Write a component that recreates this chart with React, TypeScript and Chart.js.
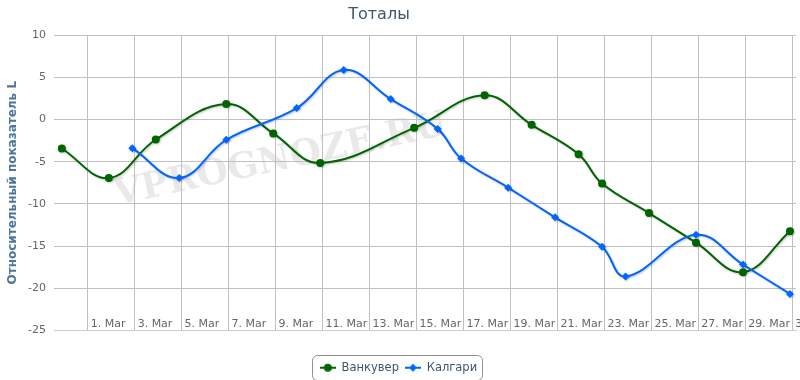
import { useEffect, useRef } from 'react';
import { Chart, registerables } from 'chart.js';

Chart.register(...registerables);

// ---- data (day numbers: 0 = 28 Feb, 1 = 1 Mar, ...) ----
const TITLE = 'Тоталы';
const Y_TITLE = 'Относительный показатель L';
const SERIES_NAMES = ['Ванкувер', 'Калгари'];
const SERIES_COLORS = ['#006400', '#0066FF'];

const VANCOUVER_DAYS = [0, 2, 4, 7, 9, 11, 15, 18, 20, 22, 23, 25, 27, 29, 31];
const VANCOUVER_VALUES = [-3.44, -6.94, -2.38, 1.82, -1.66, -5.15, -1.0, 2.85, -0.64, -4.12, -7.6, -11.09, -14.6, -18.1, -13.23];

const CALGARY_DAYS = [3, 5, 7, 10, 12, 14, 16, 17, 19, 21, 23, 24, 27, 29, 31];
const CALGARY_VALUES = [-3.41, -6.94, -2.42, 1.34, 5.86, 2.41, -1.12, -4.63, -8.08, -11.6, -15.08, -18.6, -13.66, -17.19, -20.67];

const X_TICK_DAYS = [1, 3, 5, 7, 9, 11, 13, 15, 17, 19, 21, 23, 25, 27, 29, 31];
const X_TICK_LABELS = ['1. Mar', '3. Mar', '5. Mar', '7. Mar', '9. Mar', '11. Mar', '13. Mar', '15. Mar', '17. Mar', '19. Mar', '21. Mar', '23. Mar', '25. Mar', '27. Mar', '29. Mar', '31. Mar'];

const Y_MIN = -25;
const Y_MAX = 10;
const Y_STEP = 5;

// timestamps of points sit a couple of hours before the midnight grid lines
const TIME_SHIFT = 0.1;
const X_MIN = -0.433;
const X_MAX = 31.157;

const WATERMARK = 'VPROGNOZE.RU';

function makeSymbol(color: string, kind: 'circle' | 'diamond'): HTMLCanvasElement {
  const c = document.createElement('canvas');
  c.width = 16;
  c.height = 10;
  const g = c.getContext('2d')!;
  g.strokeStyle = color;
  g.lineWidth = 2;
  g.beginPath();
  g.moveTo(0, 5);
  g.lineTo(16, 5);
  g.stroke();
  g.fillStyle = color;
  g.beginPath();
  if (kind === 'circle') {
    g.arc(8, 5, 4, 0, Math.PI * 2);
  } else {
    g.moveTo(8, 1);
    g.lineTo(12, 5);
    g.lineTo(8, 9);
    g.lineTo(4, 5);
    g.closePath();
  }
  g.fill();
  return c;
}

export default function App() {
  const ref = useRef<HTMLCanvasElement | null>(null);

  useEffect(() => {
    document.body.style.margin = '0';
    const canvas = ref.current;
    if (!canvas) return;

    const symbols = [makeSymbol(SERIES_COLORS[0], 'circle'), makeSymbol(SERIES_COLORS[1], 'diamond')];

    const watermarkPlugin = {
      id: 'watermark',
      beforeDraw(chart: any) {
        const ctx = chart.ctx;
        const a = chart.chartArea;
        ctx.save();
        ctx.translate(a.left + (a.right - a.left) * 0.305, a.top + (a.bottom - a.top) * 0.425);
        ctx.rotate((-12 * Math.PI) / 180);
        ctx.font = 'bold 36px "DejaVu Serif"';
        ctx.fillStyle = 'rgba(0,0,0,0.085)';
        ctx.textAlign = 'center';
        ctx.textBaseline = 'middle';
        ctx.fillText(WATERMARK, 0, 0);
        ctx.restore();
      },
    };

    const shadowPlugin = {
      id: 'lineShadow',
      beforeDatasetDraw(chart: any) {
        const ctx = chart.ctx;
        ctx.save();
        ctx.shadowColor = 'rgba(0,0,0,0.22)';
        ctx.shadowBlur = 2;
        ctx.shadowOffsetX = 1;
        ctx.shadowOffsetY = 1;
      },
      afterDatasetDraw(chart: any) {
        chart.ctx.restore();
      },
    };

    const titleShiftPlugin = {
      id: 'titleShift',
      afterLayout(chart: any) {
        const t = chart.titleBlock;
        if (t) {
          t.left = 0;
          t.right = 758;
          t.width = 758;
        }
      },
    };

    const legendBoxPlugin = {
      id: 'legendBox',
      afterDraw(chart: any) {
        const lg = chart.legend;
        if (!lg || !lg.legendHitBoxes || !lg.legendHitBoxes.length) return;
        const hb = lg.legendHitBoxes;
        const first = hb[0];
        const last = hb[hb.length - 1];
        const cy = first.top + first.height / 2;
        const x0 = Math.round(first.left - 8) + 0.5;
        const x1 = Math.round(last.left + last.width + 5) + 0.5;
        const y0 = Math.round(cy - 13) + 0.5;
        const y1 = Math.round(cy + 12) + 0.5;
        const r = 5;
        const ctx = chart.ctx;
        ctx.save();
        ctx.strokeStyle = '#909090';
        ctx.lineWidth = 1;
        ctx.beginPath();
        ctx.moveTo(x0 + r, y0);
        ctx.lineTo(x1 - r, y0);
        ctx.arcTo(x1, y0, x1, y0 + r, r);
        ctx.lineTo(x1, y1 - r);
        ctx.arcTo(x1, y1, x1 - r, y1, r);
        ctx.lineTo(x0 + r, y1);
        ctx.arcTo(x0, y1, x0, y1 - r, r);
        ctx.lineTo(x0, y0 + r);
        ctx.arcTo(x0, y0, x0 + r, y0, r);
        ctx.closePath();
        ctx.stroke();
        ctx.restore();
      },
    };

    const chart = new Chart(canvas, {
      type: 'line',
      data: {
        datasets: [
          {
            label: SERIES_NAMES[0],
            data: VANCOUVER_DAYS.map((d, i) => ({ x: d - TIME_SHIFT, y: VANCOUVER_VALUES[i] })),
            borderColor: SERIES_COLORS[0],
            backgroundColor: SERIES_COLORS[0],
            pointBackgroundColor: SERIES_COLORS[0],
            pointBorderColor: SERIES_COLORS[0],
            pointBorderWidth: 0,
            pointStyle: 'circle',
            pointRadius: 4,
            borderWidth: 2,
            tension: 0.4,
            fill: false,
            order: 1,
          },
          {
            label: SERIES_NAMES[1],
            data: CALGARY_DAYS.map((d, i) => ({ x: d - TIME_SHIFT, y: CALGARY_VALUES[i] })),
            borderColor: SERIES_COLORS[1],
            backgroundColor: SERIES_COLORS[1],
            pointBackgroundColor: SERIES_COLORS[1],
            pointBorderColor: SERIES_COLORS[1],
            pointBorderWidth: 0,
            pointStyle: 'rectRot',
            pointRadius: 4,
            borderWidth: 2,
            tension: 0.4,
            fill: false,
            order: 0,
          },
        ],
      },
      options: {
        animation: false,
        responsive: false,
        maintainAspectRatio: false,
        layout: { padding: { left: 0, right: 3, top: 0, bottom: -3.5 } },
        plugins: {
          title: {
            display: true,
            text: TITLE,
            color: '#3E576F',
            font: { family: '"DejaVu Sans"', size: 16, weight: 'normal' },
            padding: { top: 5.6, bottom: 10.2 },
          },
          legend: {
            display: true,
            position: 'bottom',
            labels: {
              usePointStyle: true,
              pointStyleWidth: 16,
              boxWidth: 16,
              padding: 6,
              color: '#3E576F',
              font: { family: '"DejaVu Sans"', size: 11.5 },
              generateLabels: (ch: any) =>
                ch.data.datasets.map((ds: any, i: number) => ({
                  text: ds.label,
                  pointStyle: symbols[i],
                  fillStyle: SERIES_COLORS[i],
                  strokeStyle: SERIES_COLORS[i],
                  lineWidth: 0,
                  hidden: false,
                  datasetIndex: i,
                  fontColor: '#3E576F',
                })),
            },
          },
          tooltip: { enabled: false },
        },
        scales: {
          x: {
            type: 'linear',
            min: X_MIN,
            max: X_MAX,
            afterBuildTicks: (scale: any) => {
              scale.ticks = X_TICK_DAYS.map((v) => ({ value: v }));
            },
            afterFit: (scale: any) => {
              scale.height = 25.5;
              scale.paddingLeft = 0;
              scale.paddingRight = 0;
            },
            grid: { color: '#C0C0C0', lineWidth: 1, drawTicks: false },
            border: { display: true, color: '#C0D0E0', width: 1 },
            ticks: {
              autoSkip: false,
              maxRotation: 0,
              minRotation: 0,
              align: 'start',
              mirror: true,
              labelOffset: 3,
              padding: 0.2,
              color: '#666666',
              font: { family: '"DejaVu Sans"', size: 11 },
              callback: (_v: any, i: number) => X_TICK_LABELS[i],
            },
          },
          y: {
            type: 'linear',
            min: Y_MIN,
            max: Y_MAX,
            afterFit: (scale: any) => {
              scale.width = 54;
              scale.paddingTop = 0;
              scale.paddingBottom = 0;
            },
            grid: {
              color: (c: any) => (c.tick && c.tick.value === Y_MIN ? 'rgba(0,0,0,0)' : '#C0C0C0'),
              lineWidth: 1,
              drawTicks: false,
            },
            border: { display: false },
            ticks: {
              stepSize: Y_STEP,
              padding: 8,
              color: '#666666',
              font: { family: '"DejaVu Sans"', size: 11 },
            },
            title: {
              display: true,
              text: Y_TITLE,
              color: '#4D759E',
              font: { family: '"DejaVu Sans"', size: 12, weight: 'bold' },
              padding: { top: 5.2, bottom: 0 },
            },
          },
        },
      },
      plugins: [watermarkPlugin, shadowPlugin, titleShiftPlugin, legendBoxPlugin],
    } as any);

    return () => {
      chart.destroy();
    };
  }, []);

  return (
    <div style={{ width: 800, height: 380 }}>
      <canvas ref={ref} width={800} height={380} />
    </div>
  );
}
